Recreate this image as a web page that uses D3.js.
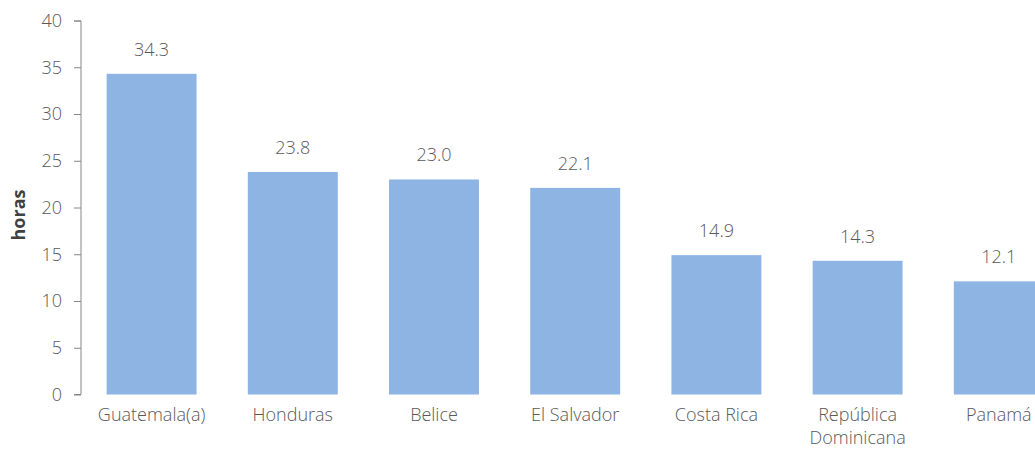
<!DOCTYPE html>
<html>
<head>
<meta charset="utf-8">
<script src="https://cdn.jsdelivr.net/npm/d3@7"></script>
<style>
  body { margin: 0; background: #fff; }
  svg { display: block; font-family: "Open Sans", Lato, sans-serif; font-weight: 300; }
</style>
</head>
<body>
<div id="chart"></div>
<script>
// data
var countries = ["Guatemala(a)", "Honduras", "Belice", "El Salvador", "Costa Rica", "República Dominicana", "Panamá"];
var labelLines = [["Guatemala(a)"], ["Honduras"], ["Belice"], ["El Salvador"], ["Costa Rica"], ["República", "Dominicana"], ["Panamá"]];
var hours = [34.3, 23.8, 23.0, 22.1, 14.9, 14.3, 12.1];
var yTicks = [0, 5, 10, 15, 20, 25, 30, 35, 40];

var margin = {top: 20.5, left: 81},
    width = 1035, height = 451,
    step = 141.2,
    plotH = 394.5 - margin.top;

var svg = d3.select("#chart")
  .append("svg")
  .attr("width", width)
  .attr("height", height);

var g = svg.append("g")
  .attr("transform", "translate(" + margin.left + "," + margin.top + ")");

var x = d3.scaleBand()
  .domain(countries)
  .range([0, step * countries.length])
  .paddingInner(0.363)
  .paddingOuter(0.1815);

var y = d3.scaleLinear()
  .domain([0, 40])
  .range([plotH, 0]);

// bars
g.selectAll(".bar")
  .data(hours)
  .enter()
  .append("rect")
  .attr("class", "bar")
  .attr("x", function(d, i) { return x(countries[i]); })
  .attr("y", function(d) { return y(d); })
  .attr("width", x.bandwidth())
  .attr("height", function(d) { return plotH - y(d); })
  .style("fill", "#8EB4E3");

// value labels
g.selectAll(".val")
  .data(hours)
  .enter()
  .append("text")
  .attr("x", function(d, i) { return x(countries[i]) + x.bandwidth() / 2; })
  .attr("y", function(d) { return y(d) - 18; })
  .attr("text-anchor", "middle")
  .style("font-size", "18px")
  .style("fill", "#595959")
  .text(function(d) { return d.toFixed(1); });

// y axis
var yAxis = g.append("g")
  .call(d3.axisLeft(y).tickValues(yTicks).tickSize(7).tickPadding(12));
yAxis.select(".domain").attr("stroke", "#868686").attr("d", "M-7,0.5H0V" + plotH + "H-7");
yAxis.selectAll(".tick line").attr("stroke", "#868686");
yAxis.selectAll(".tick text")
  .style("font-size", "18px")
  .style("font-family", "'Open Sans', sans-serif")
  .style("font-weight", "300")
  .attr("fill", "#595959");

// category labels
var cat = g.selectAll(".cat")
  .data(labelLines)
  .enter()
  .append("text")
  .attr("text-anchor", "middle")
  .attr("transform", function(d, i) {
    return "translate(" + (x(countries[i]) + x.bandwidth() / 2) + "," + (plotH + 26) + ")";
  })
  .style("font-size", "18px")
  .style("fill", "#595959");
cat.selectAll("tspan")
  .data(function(d) { return d; })
  .enter()
  .append("tspan")
  .attr("x", 0)
  .attr("y", function(d, j) { return j * 23; })
  .text(function(d) { return d; });

// axis title
svg.append("text")
  .attr("transform", "translate(25,215) rotate(-90)")
  .attr("text-anchor", "middle")
  .style("font-size", "18px")
  .style("font-weight", "bold")
  .style("fill", "#404040")
  .text("horas");
</script>
</body>
</html>
